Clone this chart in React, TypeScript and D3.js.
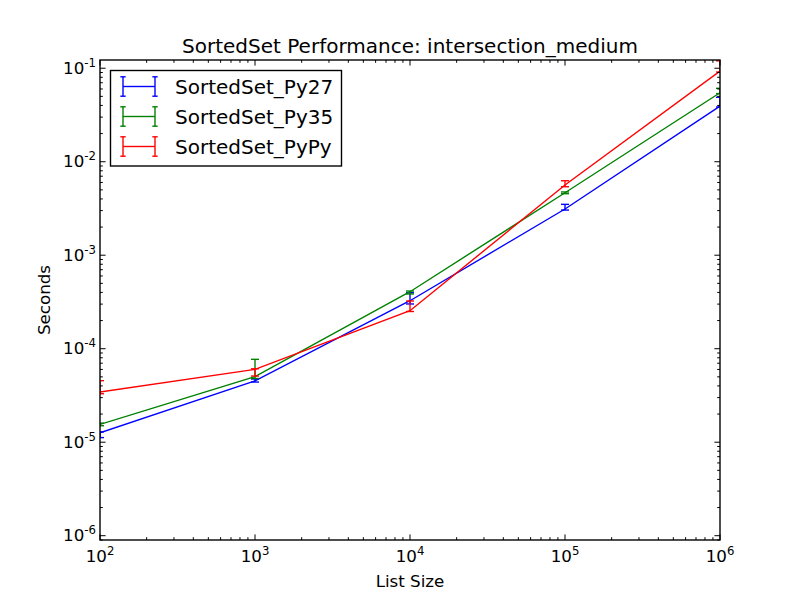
import React from "react";
import * as d3 from "d3";

const sizes = [100, 1000, 10000, 100000, 1000000];

const py27 = [1.26e-5, 4.52e-5, 3.26e-4, 3.12e-3, 3.94e-2];
const py27Low = [1.12e-5, 4.4e-5, 3.01e-4, 3.04e-3, 3.85e-2];
const py27High = [1.29e-5, 4.74e-5, 3.97e-4, 3.5e-3, 4.89e-2];

const py35 = [1.55e-5, 5.02e-5, 4.07e-4, 4.66e-3, 5.47e-2];
const py35Low = [1.5e-5, 4.8e-5, 3.85e-4, 4.55e-3, 5.35e-2];
const py35High = [1.6e-5, 7.7e-5, 4.14e-4, 4.75e-3, 6.1e-2];

const pypy = [3.44e-5, 6.02e-5, 2.55e-4, 5.64e-3, 9.33e-2];
const pypyLow = [3.3e-5, 5.1e-5, 2.5e-4, 5.4e-3, 9.1e-2];
const pypyHigh = [4.55e-5, 6.1e-5, 3.24e-4, 6.26e-3, 0.12];

const seriesNames = ["SortedSet_Py27", "SortedSet_Py35", "SortedSet_PyPy"];
const seriesColors = ["#0000ff", "#008000", "#ff0000"];

const xTickExps = [2, 3, 4, 5, 6];
const yTickExps = [-1, -2, -3, -4, -5, -6];

const titleText = "SortedSet Performance: intersection_medium";
const xLabel = "List Size";
const yLabel = "Seconds";

const W = 800;
const H = 600;
const L = 100, R = 720, T = 60, B = 540;
const FONT = "DejaVu Sans, sans-serif";
const LW = 1.39;

export default function App() {
  const x = d3.scaleLog().domain([1e2, 1e6]).range([L, R]);
  const y = d3.scaleLog().domain([Math.pow(10, -6.046), Math.pow(10, -0.912)]).range([B, T]);

  const series = [
    { vals: py27, lo: py27Low, hi: py27High },
    { vals: py35, lo: py35Low, hi: py35High },
    { vals: pypy, lo: pypyLow, hi: pypyHigh },
  ];

  const line = d3
    .line<number>()
    .x((_, i) => x(sizes[i]))
    .y((d) => y(d));

  // minor ticks
  const xMinor: number[] = [];
  for (let e = 2; e < 6; e++) for (let m = 2; m <= 9; m++) xMinor.push(m * Math.pow(10, e));
  const yMinor: number[] = [];
  for (let e = -7; e <= -1; e++)
    for (let m = 2; m <= 9; m++) {
      const v = m * Math.pow(10, e);
      const py = y(v);
      if (py >= T && py <= B) yMinor.push(v);
    }

  const capHalf = 4;
  const majorLen = 5.6;
  const minorLen = 2.8;

  return (
    <svg
      width={W}
      height={H}
      style={{ position: "absolute", left: 0, top: 0, background: "#fff" }}
      fontFamily={FONT}
    >
      <rect x={0} y={0} width={W} height={H} fill="#fff" />
      <defs>
        <clipPath id="plotclip">
          <rect x={L} y={T} width={R - L} height={B - T} />
        </clipPath>
      </defs>

      {/* data */}
      <g clipPath="url(#plotclip)">
        {series.map((s, si) => (
          <g key={si} stroke={seriesColors[si]} strokeWidth={LW} fill="none">
            <path d={line(s.vals) || ""} />
            {s.vals.map((_, i) => {
              const px = x(sizes[i]);
              const y1 = y(s.hi[i]);
              const y2 = y(s.lo[i]);
              return (
                <g key={i}>
                  <line x1={px} x2={px} y1={y1} y2={y2} />
                  <line x1={px - capHalf} x2={px + capHalf} y1={y1} y2={y1} />
                  <line x1={px - capHalf} x2={px + capHalf} y1={y2} y2={y2} />
                </g>
              );
            })}
          </g>
        ))}
      </g>

      {/* ticks */}
      <g stroke="#000" strokeWidth={1}>
        {xTickExps.map((e) => {
          const px = x(Math.pow(10, e));
          return (
            <g key={"xt" + e}>
              <line x1={px} x2={px} y1={B} y2={B - majorLen} />
              <line x1={px} x2={px} y1={T} y2={T + majorLen} />
            </g>
          );
        })}
        {xMinor.map((v, i) => {
          const px = x(v);
          return (
            <g key={"xm" + i}>
              <line x1={px} x2={px} y1={B} y2={B - minorLen} />
              <line x1={px} x2={px} y1={T} y2={T + minorLen} />
            </g>
          );
        })}
        {yTickExps.map((e) => {
          const py = y(Math.pow(10, e));
          return (
            <g key={"yt" + e}>
              <line x1={L} x2={L + majorLen} y1={py} y2={py} />
              <line x1={R} x2={R - majorLen} y1={py} y2={py} />
            </g>
          );
        })}
        {yMinor.map((v, i) => {
          const py = y(v);
          return (
            <g key={"ym" + i}>
              <line x1={L} x2={L + minorLen} y1={py} y2={py} />
              <line x1={R} x2={R - minorLen} y1={py} y2={py} />
            </g>
          );
        })}
      </g>

      {/* frame */}
      <rect x={L} y={T} width={R - L} height={B - T} fill="none" stroke="#000" strokeWidth={LW} />

      {/* tick labels */}
      <g fontSize={16.7} fill="#000">
        {xTickExps.map((e) => (
          <text key={"xl" + e} x={x(Math.pow(10, e))} y={562} textAnchor="middle">
            <tspan>10</tspan>
            <tspan dy={-7} fontSize={11.7}>{String(e)}</tspan>
          </text>
        ))}
        {yTickExps.map((e) => (
          <text key={"yl" + e} x={96} y={y(Math.pow(10, e)) + 5.5} textAnchor="end">
            <tspan>10</tspan>
            <tspan dy={-7} fontSize={11.7}>{"-" + String(-e)}</tspan>
          </text>
        ))}
      </g>

      {/* axis labels */}
      <text x={(L + R) / 2} y={587} textAnchor="middle" fontSize={16.7}>
        {xLabel}
      </text>
      <text
        transform={`translate(50,${(T + B) / 2}) rotate(-90)`}
        textAnchor="middle"
        fontSize={16.7}
      >
        {yLabel}
      </text>

      {/* title */}
      <text x={(L + R) / 2} y={52.5} textAnchor="middle" fontSize={20}>
        {titleText}
      </text>

      {/* legend */}
      <rect x={110.5} y={70.5} width={231} height={95.5} fill="#fff" stroke="#000" strokeWidth={LW} />
      {seriesNames.map((name, i) => {
        const cy = 86.5 + i * 30;
        const c = seriesColors[i];
        return (
          <g key={name}>
            <g stroke={c} strokeWidth={LW}>
              <line x1={123} x2={155} y1={cy} y2={cy} />
              <line x1={123} x2={123} y1={cy - 9.7} y2={cy + 9.7} />
              <line x1={155} x2={155} y1={cy - 9.7} y2={cy + 9.7} />
              <line x1={120.3} x2={125.7} y1={cy - 9.7} y2={cy - 9.7} />
              <line x1={120.3} x2={125.7} y1={cy + 9.7} y2={cy + 9.7} />
              <line x1={152.3} x2={157.7} y1={cy - 9.7} y2={cy - 9.7} />
              <line x1={152.3} x2={157.7} y1={cy + 9.7} y2={cy + 9.7} />
            </g>
            <text x={175} y={cy + 7.3} fontSize={20} fill="#000">
              {name}
            </text>
          </g>
        );
      })}
    </svg>
  );
}
